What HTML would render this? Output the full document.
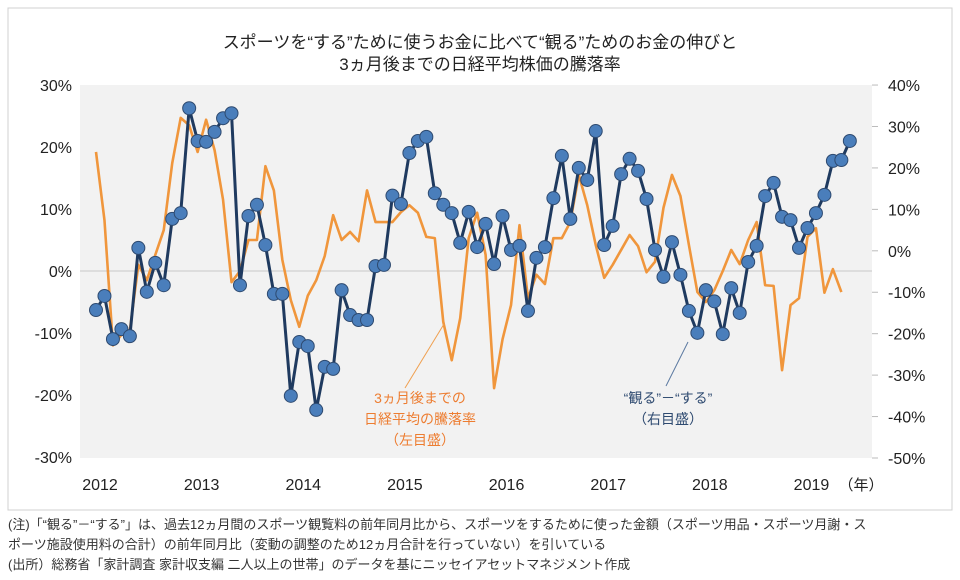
<!DOCTYPE html>
<html><head><meta charset="utf-8"><style>
body{margin:0;background:#fff;width:960px;height:580px;overflow:hidden;font-family:"Liberation Sans","Noto Sans CJK JP",sans-serif}
.note{position:absolute;left:8px;font-size:13px;color:#333;line-height:20px}
</style></head><body>
<svg width="960" height="580" style="position:absolute;left:0;top:0" font-family="Liberation Sans, Noto Sans CJK JP, sans-serif">
<rect x="8" y="8" width="944" height="502" fill="#fff" stroke="#d0d0d0"/>
<text x="480" y="48" text-anchor="middle" font-size="17" fill="#222">スポーツを“する”ために使うお金に比べて“観る”ためのお金の伸びと</text>
<text x="480" y="70" text-anchor="middle" font-size="17" fill="#222">3ヵ月後までの日経平均株価の騰落率</text>
<rect x="80" y="85" width="792" height="373" fill="#f2f2f2"/>
<g id="axes"></g>
<g id="marks"></g>
<line x1="444" y1="324" x2="405" y2="388" stroke="#f0a050" stroke-width="1"/>
<line x1="688" y1="342" x2="666" y2="386" stroke="#5a78a0" stroke-width="1"/>
<g font-size="14" fill="#ed7d31" text-anchor="middle">
<text x="420" y="403">3ヵ月後までの</text><text x="420" y="424">日経平均の騰落率</text><text x="420" y="445">（左目盛）</text></g>
<g font-size="14" fill="#2e4a70" text-anchor="middle">
<text x="668" y="403">“観る”－“する”</text><text x="668" y="424">（右目盛）</text></g>
</svg>
<div class="note" style="top:515px">(注)「“観る”－“する”」は、過去12ヵ月間のスポーツ観覧料の前年同月比から、スポーツをするために使った金額（スポーツ用品・スポーツ月謝・ス</div>
<div class="note" style="top:535px">ポーツ施設使用料の合計）の前年同月比（変動の調整のため12ヵ月合計を行っていない）を引いている</div>
<div class="note" style="top:555px">(出所）総務省「家計調査 家計収支編 二人以上の世帯」のデータを基にニッセイアセットマネジメント作成</div>
<script>
const leftTicks=[30,20,10,0,-10,-20,-30];
const rightTicks=[40,30,20,10,0,-10,-20,-30,-40,-50];
const yearLabels=["2012","2013","2014","2015","2016","2017","2018","2019"];
const nikkei=[19.2,8.2,-12,-10.3,-9.5,1,-1.5,2.6,6.6,17.4,24.7,23.5,19.2,24.4,19.5,11.5,-1.8,0,5,5,16.9,13,1.8,-4.7,-9,-4,-1.5,2.4,9,5,6.3,4.8,13,7.9,7.9,7.9,9.5,10.6,9.4,5.5,5.3,-8.2,-14.4,-7.6,5.3,9.4,2.6,-18.9,-11,-5.5,7.4,-4.4,-0.6,-2.1,5.3,5.3,7.9,15.5,10.6,4.2,-1.1,1,3.4,5.8,4,-0.2,1.5,10.2,15.5,12.1,4.2,-3.4,-5,-3.1,0,3.4,1.1,5,7.9,-2.3,-2.4,-16,-5.5,-4.4,5.5,6.9,-3.5,0.3,-3.4];
const watchMinusDo=[-14.3,-10.9,-21.3,-18.9,-20.6,0.7,-9.9,-2.9,-8.3,7.7,9.1,34.4,26.5,26.3,28.7,32.0,33.2,-8.3,8.4,11.1,1.4,-10.4,-10.4,-35.0,-22.0,-23.0,-38.4,-28.0,-28.5,-9.5,-15.5,-16.7,-16.7,-3.7,-3.4,13.3,11.3,23.6,26.5,27.5,13.9,11.1,9.1,1.9,9.4,0.9,6.5,-3.2,8.4,0.2,1.2,-14.5,-1.7,0.9,12.7,22.9,7.7,20.0,17.1,28.9,1.4,6.0,18.5,22.2,19.3,12.5,0.2,-6.3,2.1,-5.8,-14.5,-19.8,-9.5,-12.2,-20.1,-9.0,-15.0,-2.7,1.2,13.2,16.4,8.2,7.4,0.7,5.5,9.1,13.5,21.7,21.9,26.5];
const NS="http://www.w3.org/2000/svg";
const yL=v=>271-v*6.2;
const yR=v=>250.8-v*4.144;
const xM=i=>96+i*8.47;
function mk(t,a,p){const e=document.createElementNS(NS,t);for(const k in a)e.setAttribute(k,a[k]);p.appendChild(e);return e;}
const ax=document.getElementById('axes'),mg=document.getElementById('marks');
const zl=mk('line',{x1:80,x2:872,y1:yL(0),y2:yL(0),stroke:'#c8c8c8'},ax);


leftTicks.forEach(v=>{const t=mk('text',{x:72,y:yL(v)+6,'text-anchor':'end','font-size':16,fill:'#222'},ax);t.textContent=v+'%';

});
rightTicks.forEach(v=>{const t=mk('text',{x:888,y:yR(v)+6,'font-size':16,fill:'#222'},ax);t.textContent=v+'%';


const l=mk('line',{x1:872,x2:878,y1:yR(v),y2:yR(v),stroke:'#bbb'},ax);

});
yearLabels.forEach((y,i)=>{const t=mk('text',{x:xM(i*12)+4,y:490,'text-anchor':'middle','font-size':16,fill:'#222'},ax);t.textContent=y;

});
const nen=mk('text',{x:861,y:490,'text-anchor':'middle','font-size':15,fill:'#222'},ax);nen.textContent='（年）';


const op=mk('polyline',{points:nikkei.map((v,i)=>xM(i)+','+yL(v)).join(' '),fill:'none',stroke:'#f0963c','stroke-width':2.6,'stroke-linejoin':'round'},mg);


const bp=mk('polyline',{points:watchMinusDo.map((v,i)=>xM(i)+','+yR(v)).join(' '),fill:'none',stroke:'#1f3a5f','stroke-width':3,'stroke-linejoin':'round'},mg);


watchMinusDo.forEach((v,i)=>{const c=mk('circle',{cx:xM(i),cy:yR(v),r:6.5,fill:'#4a7ebb',stroke:'#2e4a70','stroke-width':1},mg);

});
</script>
</body></html>
